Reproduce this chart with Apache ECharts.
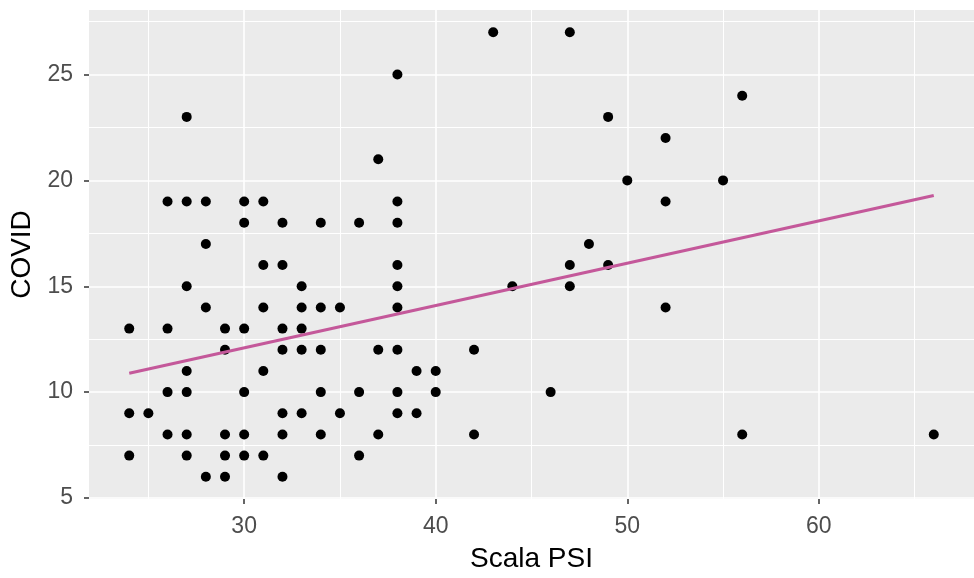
<!DOCTYPE html>
<html>
<head>
<meta charset="utf-8">
<title>COVID vs Scala PSI</title>
<script src="https://cdn.jsdelivr.net/npm/echarts@6/dist/echarts.min.js"></script>
<style>
  html, body { margin: 0; padding: 0; background: #ffffff; }
  #chart { width: 974px; height: 578px; }
</style>
</head>
<body>
<div id="chart"></div>
<script>
// Observations: PSI scale score and COVID score for each respondent
const scalaPsi = [
  43, 47,
  38,
  56,
  27, 49,
  52,
  37,
  50, 55,
  26, 27, 28, 30, 31, 38, 52,
  30, 32, 34, 36, 38,
  28, 48,
  31, 32, 38, 47, 49,
  27, 33, 38, 44, 47,
  28, 31, 33, 34, 35, 38, 52,
  24, 26, 29, 30, 32, 33,
  29, 32, 33, 34, 37, 38, 42,
  27, 31, 39, 40,
  26, 27, 30, 34, 36, 38, 40, 46,
  24, 25, 32, 33, 35, 38, 39,
  26, 27, 29, 30, 32, 34, 37, 42, 56, 66,
  24, 27, 29, 30, 31, 36,
  28, 29, 32
];
const covid = [
  27, 27,
  25,
  24,
  23, 23,
  22,
  21,
  20, 20,
  19, 19, 19, 19, 19, 19, 19,
  18, 18, 18, 18, 18,
  17, 17,
  16, 16, 16, 16, 16,
  15, 15, 15, 15, 15,
  14, 14, 14, 14, 14, 14, 14,
  13, 13, 13, 13, 13, 13,
  12, 12, 12, 12, 12, 12, 12,
  11, 11, 11, 11,
  10, 10, 10, 10, 10, 10, 10, 10,
  9, 9, 9, 9, 9, 9, 9,
  8, 8, 8, 8, 8, 8, 8, 8, 8, 8,
  7, 7, 7, 7, 7, 7,
  6, 6, 6
];

// Linear fit (lm) end points
const fitX = [24, 66];
const fitY = [10.89, 19.29];

// Axis breaks
const xBreaks = [30, 40, 50, 60];
const xMinorBreaks = [25, 35, 45, 55, 65];
const yBreaks = [5, 10, 15, 20, 25];
const yMinorBreaks = [7.5, 12.5, 17.5, 22.5, 27.5];

// Panel limits (data range plus 5% expansion)
const xLimits = [21.9, 68.1];
const yLimits = [4.95, 28.05];

const points = scalaPsi.map((x, i) => [x, covid[i]]);
const fitLine = fitX.map((x, i) => [x, fitY[i]]);

const FONT = '"Liberation Sans", Arial, sans-serif';

const hiddenParts = {
  axisLine: { show: false },
  axisTick: { show: false },
  axisLabel: { show: false }
};

const chart = echarts.init(document.getElementById('chart'), null, { renderer: 'canvas' });

chart.setOption({
  animation: false,
  backgroundColor: '#ffffff',
  grid: {
    left: 89,
    right: -10,
    top: 10,
    bottom: 73,
    show: true,
    backgroundColor: '#EBEBEB',
    borderWidth: 0
  },
  xAxis: [
    {
      type: 'value',
      min: xLimits[0],
      max: xLimits[1],
      name: 'Scala PSI',
      nameLocation: 'middle',
      nameGap: 46,
      nameTextStyle: { color: '#000000', fontSize: 28, fontFamily: FONT },
      axisLine: { show: false },
      axisTick: {
        show: true,
        customValues: xBreaks,
        length: 5,
        lineStyle: { color: '#333333', width: 1.5 }
      },
      axisLabel: {
        customValues: xBreaks,
        margin: 16,
        color: '#4D4D4D',
        fontSize: 23,
        fontFamily: FONT
      },
      splitLine: { show: true, lineStyle: { color: '#ffffff', width: 1.6 } }
    },
    Object.assign({
      type: 'value',
      min: xLimits[0],
      max: xLimits[1],
      splitLine: { show: true, lineStyle: { color: '#ffffff', width: 1 } }
    }, hiddenParts, {
      axisTick: { show: false, customValues: xMinorBreaks }
    })
  ],
  yAxis: [
    {
      type: 'value',
      min: yLimits[0],
      max: yLimits[1],
      name: 'COVID',
      nameLocation: 'middle',
      nameGap: 50,
      nameRotate: 90,
      nameTextStyle: { color: '#000000', fontSize: 28, fontFamily: FONT },
      axisLine: { show: false },
      axisTick: {
        show: true,
        customValues: yBreaks,
        length: 5,
        lineStyle: { color: '#333333', width: 1.5 }
      },
      axisLabel: {
        customValues: yBreaks,
        margin: 16,
        color: '#4D4D4D',
        fontSize: 23,
        fontFamily: FONT
      },
      splitLine: { show: true, lineStyle: { color: '#ffffff', width: 1.6 } }
    },
    Object.assign({
      type: 'value',
      position: 'left',
      min: yLimits[0],
      max: yLimits[1],
      splitLine: { show: true, lineStyle: { color: '#ffffff', width: 1 } }
    }, hiddenParts, {
      axisTick: { show: false, customValues: yMinorBreaks }
    })
  ],
  series: [
    {
      type: 'scatter',
      data: points,
      symbol: 'circle',
      symbolSize: 10,
      itemStyle: { color: '#000000', opacity: 1 },
      z: 3
    },
    {
      type: 'line',
      data: fitLine,
      showSymbol: false,
      symbol: 'none',
      lineStyle: { color: '#C4589A', width: 3.2 },
      z: 4
    }
  ]
});
</script>
</body>
</html>
